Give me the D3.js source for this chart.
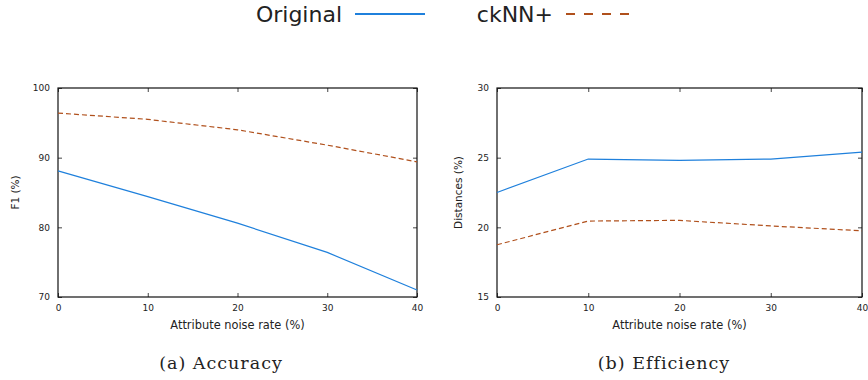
<!DOCTYPE html>
<html>
<head>
<meta charset="utf-8">
<script src="https://cdn.jsdelivr.net/npm/d3@7"></script>
<style>
  body { margin: 0; background: #fff; }
  svg text { font-family: "DejaVu Sans", sans-serif; fill: #222; }
</style>
</head>
<body>
<svg width="868" height="380"></svg>
<script>
// noise rates along x
var noiseRates = [0, 10, 20, 30, 40];

// (a) accuracy, F1 %
var accOriginal = [88.1, 84.4, 80.6, 76.4, 71.0];
var accCknn = [96.4, 95.5, 94.0, 91.8, 89.4];

// (b) efficiency, distances %
var effOriginal = [22.5, 24.9, 24.8, 24.9, 25.4];
var effCknn = [18.75, 20.45, 20.5, 20.1, 19.75];

var xTicks = [0, 10, 20, 30, 40];
var accTicks = [70, 80, 90, 100];
var effTicks = [15, 20, 25, 30];

var blue = "#1f80dc", brown = "#b0501c";

var svg = d3.select("svg");

// legend
var legend = svg.append("g");
legend.append("text").attr("x", 342).attr("y", 22).attr("text-anchor", "end")
    .style("font-size", "22px").text("Original");
legend.append("line").attr("x1", 355).attr("x2", 425).attr("y1", 14).attr("y2", 14)
    .attr("stroke", blue).attr("stroke-width", 2);
legend.append("text").attr("x", 553).attr("y", 22).attr("text-anchor", "end")
    .style("font-size", "22px").text("ckNN+");
legend.append("line").attr("x1", 566).attr("x2", 630).attr("y1", 14).attr("y2", 14)
    .attr("stroke", brown).attr("stroke-width", 2.2).attr("stroke-dasharray", "9,9");

function panel(left, right, yDomain, yTicks, orig, cknn, yLabel, yLabelX, caption) {
    var top = 88, bottom = 297;
    var x = d3.scaleLinear().domain([0, 40]).range([left, right]);
    var y = d3.scaleLinear().domain(yDomain).range([bottom, top]);
    var g = svg.append("g");

    // inward ticks, mirrored on every side
    g.append("g").attr("transform", "translate(0," + bottom + ")")
        .call(d3.axisBottom(x).tickValues(xTicks).tickSizeInner(-4).tickSizeOuter(0).tickPadding(8))
        .call(styleAxis);
    g.append("g").attr("transform", "translate(0," + top + ")")
        .call(d3.axisTop(x).tickValues(xTicks).tickSizeInner(-4).tickSizeOuter(0).tickFormat(""))
        .call(styleAxis);
    g.append("g").attr("transform", "translate(" + left + ",0)")
        .call(d3.axisLeft(y).tickValues(yTicks).tickSizeInner(-4).tickSizeOuter(0).tickPadding(8))
        .call(styleAxis);
    g.append("g").attr("transform", "translate(" + right + ",0)")
        .call(d3.axisRight(y).tickValues(yTicks).tickSizeInner(-4).tickSizeOuter(0).tickFormat(""))
        .call(styleAxis);

    g.append("rect").attr("x", left).attr("y", top)
        .attr("width", right - left).attr("height", bottom - top)
        .attr("fill", "none").attr("stroke", "#111").attr("stroke-width", 1.2);

    var line = d3.line()
        .x(function (d, i) { return x(noiseRates[i]); })
        .y(function (d) { return y(d); });

    g.append("path").datum(cknn).attr("d", line)
        .attr("fill", "none").attr("stroke", brown).attr("stroke-width", 1.2)
        .attr("stroke-dasharray", "5,3");
    g.append("path").datum(orig).attr("d", line)
        .attr("fill", "none").attr("stroke", blue).attr("stroke-width", 1.2);

    g.append("text").attr("x", (left + right) / 2).attr("y", 329)
        .attr("text-anchor", "middle").style("font-size", "11.4px")
        .text("Attribute noise rate (%)");
    g.append("text")
        .attr("transform", "translate(" + yLabelX + "," + (top + bottom) / 2 + ") rotate(-90)")
        .attr("text-anchor", "middle").style("font-size", "10.5px")
        .text(yLabel);

    g.append("text").attr("x", caption.x).attr("y", 369)
        .attr("text-anchor", "middle")
        .style("font-family", "'DejaVu Serif', serif").style("font-size", "17.5px")
        .style("letter-spacing", "1px")
        .text(caption.text);
}

function styleAxis(sel) {
    sel.select(".domain").remove();
    sel.selectAll(".tick line").attr("stroke", "#444");
    sel.selectAll(".tick text").style("font-size", "9px").style("font-family", "'DejaVu Sans', sans-serif")
        .attr("fill", "#222");
}

panel(58, 417, [70, 100], accTicks, accOriginal, accCknn, "F1 (%)", 19,
    {x: 221, text: "(a) Accuracy"});
panel(497, 862, [15, 30], effTicks, effOriginal, effCknn, "Distances (%)", 462,
    {x: 664, text: "(b) Efficiency"});
</script>
</body>
</html>
